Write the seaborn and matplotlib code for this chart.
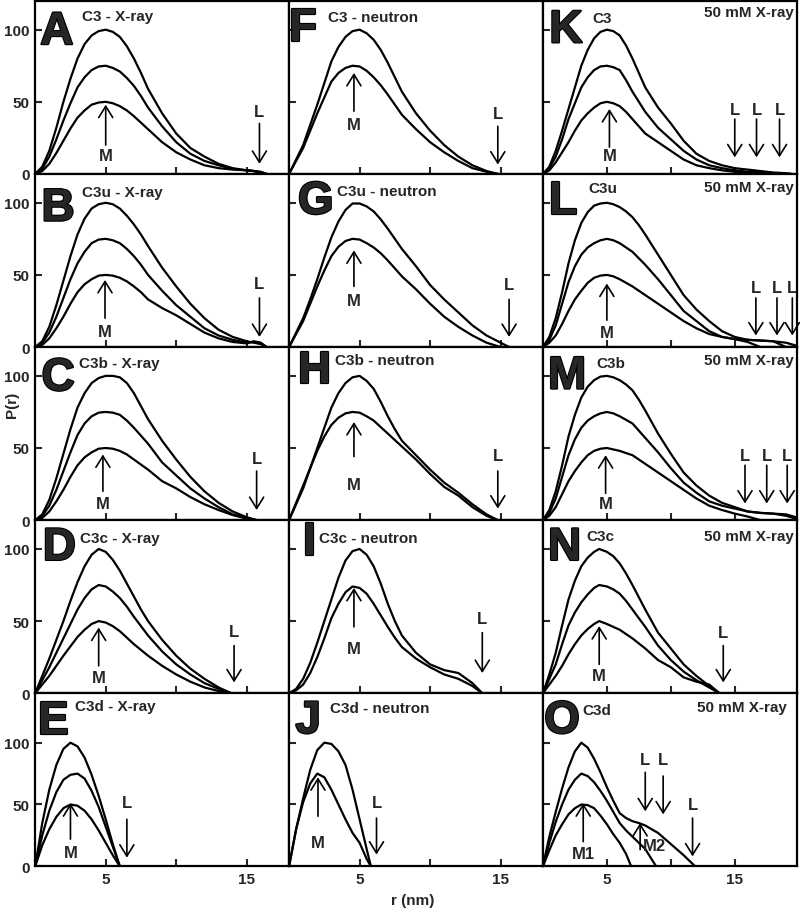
import matplotlib
matplotlib.use("Agg")
import matplotlib.pyplot as plt
import matplotlib.patheffects as pe
import seaborn as sns

sns.set_style("ticks")
plt.rcParams['font.family'] = ['Liberation Sans', 'DejaVu Sans']
plt.rcParams['font.weight'] = 'bold'

# ---- P(r) curves (r in nm) ----
r_A = [0, 0.5, 1, 1.5, 2, 2.5, 3, 3.5, 4, 4.5, 5, 5.5, 6, 6.5, 7, 7.5, 8, 9, 10, 11, 12, 13, 14, 15, 15.5, 16, 16.4]
A_top = [0, 5, 16, 32, 50, 66, 80, 90, 96, 99, 100, 98.5, 95, 88.5, 80, 70, 59, 42, 28, 18, 12, 7, 4, 2.5, 2, 1, 0]
A_mid = [0, 3.5, 12, 24, 37, 49, 60, 67, 72, 74.5, 75, 73.5, 71, 66.5, 61, 54, 46, 33, 22, 14, 9, 6, 3.5, 2.5, 2, 1, 0]
A_bot = [0, 2, 7, 14.5, 23, 31.5, 39, 44, 48, 49.5, 50, 49, 47, 44, 40, 35.5, 31, 22, 15, 10, 6, 4, 3, 2.5, 2, 1.5, 0]

r_B = [0, 0.5, 1, 1.5, 2, 2.5, 3, 3.5, 4, 4.5, 5, 5.5, 6, 6.5, 7, 7.5, 8, 9, 10, 11, 12, 13, 14, 15, 15.5, 16, 16.4]
B_top = [0, 4, 14, 29, 46, 63, 78, 89, 96, 99, 100, 99, 96, 91, 85, 78, 70, 55, 42, 30, 20, 12, 7, 4, 3, 2, 0]
B_mid = [0, 3, 10, 21, 34, 47, 58, 66, 72, 74.5, 75, 74, 72, 68, 63, 57, 50, 39, 29, 21, 13, 8, 5, 3, 3.5, 2.5, 0]
B_bot = [0, 1.5, 6, 13, 21, 30, 38, 43.5, 47, 49.5, 50, 49.5, 48, 45.5, 42, 38, 33, 27, 22, 16, 10, 6, 3.5, 2.5, 4, 3, 0]

r_C = [0, 0.5, 1, 1.5, 2, 2.5, 3, 3.5, 4, 4.5, 5, 5.5, 6, 6.5, 7, 7.5, 8, 9, 10, 11, 12, 13, 14, 15, 15.7]
C_top = [0, 4, 14, 29, 46, 63, 78, 88, 95, 98.5, 100, 100, 99, 95, 88, 79, 70, 55, 42, 30, 20, 12, 6, 2, 0]
C_mid = [0, 3, 10, 21, 34, 47, 59, 67, 72, 74.5, 75, 74.5, 73, 69, 64, 58.5, 53, 40, 31, 22, 15, 9, 4, 1.5, 0]
C_bot = [0, 1.5, 6, 13, 21, 30, 38, 43.5, 47, 49.5, 50, 49.5, 48, 45.5, 42, 38.5, 35, 27, 22, 16, 11, 7, 3.5, 1, 0]

r_D = [0, 0.5, 1, 1.5, 2, 2.5, 3, 3.5, 4, 4.5, 5, 5.5, 6, 6.5, 7, 7.5, 8, 9, 10, 11, 12, 13, 13.9]
D_top = [0, 12, 24, 37, 50, 64, 77, 88, 96, 100, 98, 92.5, 85, 76, 67, 58, 50, 37, 26, 17, 10, 4, 0]
D_mid = [0, 9, 18, 28, 38, 48, 58, 66, 72, 75, 74, 70.5, 66, 60, 53, 46.5, 40, 29, 20, 13, 7, 3, 0]
D_bot = [0, 6, 12, 19, 26, 32.5, 39, 44, 48, 50, 49, 46.5, 43, 38.5, 34, 30, 26, 19, 13, 8, 4, 1.5, 0]

r_E = [0, 0.5, 1, 1.5, 2, 2.5, 3, 3.5, 4, 4.5, 5, 5.5, 6]
E_top = [0, 35, 62, 82, 95, 100, 97, 88, 74, 57, 38, 18, 0]
E_mid = [0, 25, 45, 60, 70, 74, 75, 71, 61, 48, 32, 16, 0]
E_bot = [0, 17, 30, 40, 47, 50, 49, 45, 38, 29, 19, 9, 0]

r_F = [0, 0.5, 1, 1.5, 2, 2.5, 3, 3.5, 4, 4.5, 5, 5.5, 6, 6.5, 7, 7.5, 8, 9, 10, 11, 12, 13, 14, 14.8]
F_top = [0, 10, 20, 34, 48, 63, 78, 88, 95, 99, 100, 97.5, 93, 86, 77, 67, 57, 42, 30, 20, 12, 6, 2, 0]
F_mid = [0, 9, 18, 30, 42, 53, 64, 70, 73.5, 75, 74.5, 71.5, 67, 61.5, 55, 48, 41, 31, 22, 15, 9, 4, 1.5, 0]

r_G = [0, 0.5, 1, 1.5, 2, 2.5, 3, 3.5, 4, 4.5, 5, 5.5, 6, 6.5, 7, 7.5, 8, 9, 10, 11, 12, 13, 14, 15, 15.6]
G_top = [0, 10, 20, 33, 47, 62, 76, 87, 95, 99.5, 99.5, 97.5, 94, 88.5, 82, 75, 68, 56, 43, 33, 24, 15, 8, 3, 0]
G_mid = [0, 9, 18, 30, 42, 53, 63, 69.5, 73.5, 75, 74.5, 72, 69, 65, 60, 54.5, 49, 40, 30, 21, 14, 8, 3, 0, 0]

r_H = [0, 0.5, 1, 1.5, 2, 2.5, 3, 3.5, 4, 4.5, 5, 5.5, 6, 6.5, 7, 7.5, 8, 9, 10, 11, 12, 13, 14, 14.8]
H_top = [0, 11, 22, 36, 50, 64, 78, 88, 95, 99, 100, 96.5, 91, 82, 72, 63, 55, 45, 35, 26, 19, 11, 4, 0]
H_mid = [0, 12, 24, 36, 48, 58, 66, 71, 74, 75, 74.5, 72, 69, 64.5, 60, 55.5, 51, 42, 32, 23, 17, 9, 3, 0]

r_I = [0, 0.5, 1, 1.5, 2, 2.5, 3, 3.5, 4, 4.5, 5, 5.5, 6, 6.5, 7, 7.5, 8, 9, 10, 11, 12, 13, 13.7]
I_top = [0, 3, 10, 21, 35, 50, 65, 80, 92, 98.5, 100, 96, 88, 76, 62, 50, 40, 28, 20, 16, 14, 7, 0]
I_mid = [0, 2, 6, 14, 25, 38, 52, 62, 70, 74, 73, 69, 62, 54, 46, 38.5, 32, 24, 18, 13, 10, 5, 0]

r_J = [0, 0.5, 1, 1.5, 2, 2.5, 3, 3.5, 4, 4.5, 5, 5.5, 5.8]
J_top = [0, 30, 55, 78, 94, 100, 99, 93, 82, 62, 38, 14, 0]
J_mid = [0, 30, 52, 67, 75, 72, 62, 50, 38, 27, 19, 6, 0]

r_K = [0, 0.5, 1, 1.5, 2, 2.5, 3, 3.5, 4, 4.5, 5, 5.5, 6, 6.5, 7, 7.5, 8, 9, 10, 11, 12, 13, 14, 15, 16, 17, 18, 19, 19.4]
K_top = [0, 5, 16, 30, 45, 60, 75, 86, 94, 98.5, 100, 99, 96, 89, 80, 70, 60, 46, 35, 23, 14, 9, 6, 4, 3, 2, 1, 0.5, 0]
K_mid = [0, 4, 12, 24, 38, 49, 60, 67, 72, 74.5, 75, 74, 72, 65, 57, 50, 43, 32, 24, 16, 10, 6, 4, 2.5, 1.5, 1, 0.5, 0, 0]
K_bot = [0, 2.5, 8, 15, 22, 30, 37, 42, 46, 49, 50, 49, 47, 43, 38, 33, 28, 22, 16, 10, 6, 4, 2.5, 1.5, 0.5, 0, 0, 0, 0]

r_L = [0, 0.5, 1, 1.5, 2, 2.5, 3, 3.5, 4, 4.5, 5, 5.5, 6, 6.5, 7, 7.5, 8, 9, 10, 11, 12, 13, 14, 15, 16, 17, 18, 19, 19.8]
L_top = [0, 7, 20, 38, 58, 74, 86, 93.5, 98, 99.5, 100, 99, 97, 94, 90, 84.5, 78, 64, 50, 36, 26, 18, 11, 7, 5, 4.5, 4, 3, 1]
L_mid = [0, 5, 15, 30, 45, 56, 64, 69, 72, 74, 75, 74, 72, 69, 66, 61.5, 57, 47, 36, 25, 18, 11, 7, 5.5, 5, 4.5, 4, 0, 0]
L_bot = [0, 3, 8, 16, 25, 33, 39, 44.5, 48, 49.5, 50, 49, 47, 44.5, 42, 39, 36, 30, 24, 18, 13, 9, 7, 5.5, 3.5, 0, 0, 0, 0]

r_M = [0, 0.5, 1, 1.5, 2, 2.5, 3, 3.5, 4, 4.5, 5, 5.5, 6, 6.5, 7, 7.5, 8, 9, 10, 11, 12, 13, 14, 15, 16, 17, 18, 19, 19.8]
M_top = [0, 7, 20, 38, 58, 73, 85, 92.5, 97, 99.5, 100, 99, 97, 94, 90, 83.5, 76, 60, 46, 33, 24, 17, 12, 9, 6, 5, 4.5, 4, 2]
M_mid = [0, 5, 15, 30, 45, 56, 64, 69, 72, 74, 75, 74, 72, 69.5, 67, 62, 57, 47, 36, 26, 19, 13, 10, 8, 6, 5, 4.5, 3, 1]
M_bot = [0, 3, 9, 18, 27, 34, 40, 45, 48, 49.5, 50, 49, 48, 46.5, 45, 42, 39, 33, 27, 21, 15, 10, 7, 4.5, 2.5, 0, 0, 0, 0]

r_N = [0, 0.5, 1, 1.5, 2, 2.5, 3, 3.5, 4, 4.4, 5, 5.5, 6, 6.5, 7, 7.5, 8, 9, 10, 11, 12, 13, 13.8]
N_top = [0, 13, 28, 47, 65, 78, 88, 94, 98, 100, 98, 95, 90, 83, 75, 66.5, 58, 42, 31, 20, 12, 5, 0]
N_mid = [0, 10, 20, 34, 47, 56, 63, 68.5, 73, 75, 74, 72, 69, 64, 58, 52, 46, 33, 23, 15, 9, 4, 0]
N_bot = [0, 6, 12, 19, 27, 34, 40, 44.5, 48, 50, 48, 46, 44, 41, 38, 34.5, 31, 23, 18, 11, 8, 6, 0]

r_O_top = [0, 0.5, 1, 1.5, 2, 2.5, 3, 3.5, 4, 4.5, 5, 5.5, 6, 6.5, 7, 7.5, 8, 9, 10, 11, 11.9]
O_top = [0, 24, 44, 63, 80, 93, 100, 96, 87, 76, 64, 53, 43, 39, 36.5, 35, 33, 27, 18, 9, 0]
r_O_mid = [0, 0.5, 1, 1.5, 2, 2.5, 3, 3.5, 4, 4.5, 5, 5.5, 6, 6.5, 7, 7.5, 8, 8.85]
O_mid = [0, 19, 36, 50, 62, 70, 75, 73, 68, 61, 53, 44, 35, 29, 24, 19, 14, 0]
r_O_bot = [0, 0.5, 1, 1.5, 2, 2.5, 3, 3.5, 4, 4.5, 5, 5.5, 6, 6.5, 6.9]
O_bot = [0, 13, 25, 34, 42, 47, 50, 49.5, 47, 41, 34, 26, 19, 10, 0]

letters = ['A', 'B', 'C', 'D', 'E', 'F', 'G', 'H', 'I', 'J', 'K', 'L', 'M', 'N', 'O']
titles = ['C3 - X-ray', 'C3u - X-ray', 'C3b - X-ray', 'C3c - X-ray', 'C3d - X-ray',
          'C3 - neutron', 'C3u - neutron', 'C3b - neutron', 'C3c - neutron', 'C3d - neutron',
          'C3', 'C3u', 'C3b', 'C3c', 'C3d']
right_note = '50 mM X-ray'

curves = {
    'A': [(r_A, A_top), (r_A, A_mid), (r_A, A_bot)],
    'B': [(r_B, B_top), (r_B, B_mid), (r_B, B_bot)],
    'C': [(r_C, C_top), (r_C, C_mid), (r_C, C_bot)],
    'D': [(r_D, D_top), (r_D, D_mid), (r_D, D_bot)],
    'E': [(r_E, E_top), (r_E, E_mid), (r_E, E_bot)],
    'F': [(r_F, F_top), (r_F, F_mid)],
    'G': [(r_G, G_top), (r_G, G_mid)],
    'H': [(r_H, H_top), (r_H, H_mid)],
    'I': [(r_I, I_top), (r_I, I_mid)],
    'J': [(r_J, J_top), (r_J, J_mid)],
    'K': [(r_K, K_top), (r_K, K_mid), (r_K, K_bot)],
    'L': [(r_L, L_top), (r_L, L_mid), (r_L, L_bot)],
    'M': [(r_M, M_top), (r_M, M_mid), (r_M, M_bot)],
    'N': [(r_N, N_top), (r_N, N_mid), (r_N, N_bot)],
    'O': [(r_O_top, O_top), (r_O_mid, O_mid), (r_O_bot, O_bot)],
}

# M arrows: (x, tail, head, label, label x, label y); L arrows: (x, text y, tail, head)
m_marks = {
    'A': [(5.0, 20, 48, 'M', 5.0, 12.5)], 'B': [(4.95, 20, 46.5, 'M', 4.95, 11)],
    'C': [(4.8, 20, 45.5, 'M', 4.8, 11.5)], 'D': [(4.5, 19, 45.5, 'M', 4.5, 11)],
    'E': [(2.5, 22, 51, 'M', 2.5, 11)], 'F': [(4.6, 43.5, 70, 'M', 4.6, 34)],
    'G': [(4.6, 42, 67, 'M', 4.6, 32)], 'H': [(4.6, 44, 68, 'M', 4.6, 25)],
    'I': [(4.6, 46, 73, 'M', 4.6, 31)], 'J': [(2.05, 40.5, 72, 'M', 2.05, 19)],
    'K': [(5.2, 18.6, 45, 'M', 5.2, 12.5)], 'L': [(5.0, 18.6, 44, 'M', 5.0, 10)],
    'M': [(4.9, 18.6, 45, 'M', 4.9, 11.5)], 'N': [(4.4, 20, 46.5, 'M', 4.4, 12)],
    'O': [(3.15, 20, 51, 'M1', 3.15, 10), (7.6, 13.5, 35, 'M2', 8.7, 16.5)],
}
l_marks = {
    'A': [(15.9, 43.5, 35, 7)], 'B': [(15.9, 44, 34, 7)], 'C': [(15.7, 43, 34, 7)],
    'D': [(14.1, 43, 33, 7.5)], 'E': [(6.5, 51.5, 38, 7)], 'F': [(14.8, 42, 33, 6.5)],
    'G': [(15.6, 43, 33, 7)], 'H': [(14.8, 45, 34, 8)], 'I': [(13.7, 52, 42, 14)],
    'J': [(6.2, 51.5, 39, 9.5)],
    'K': [(15.0, 45, 38, 11.5), (16.7, 45, 38, 11.5), (18.5, 45, 38, 11.5)],
    'L': [(16.65, 41, 34, 8), (18.3, 41, 34, 8), (19.5, 41, 34, 8)],
    'M': [(15.8, 45, 38, 11.5), (17.5, 45, 38, 11.5), (19.1, 45, 38, 11.5)],
    'N': [(14.1, 42, 33, 7.5)],
    'O': [(8.0, 86.5, 76, 44.5), (9.4, 86.5, 73, 42), (11.7, 50, 39, 8)],
}

# per-panel text placement (axes fraction): letter x, letter baseline, title x, title baseline
letter_pos = {'A': (0.02, 0.75), 'B': (0.025, 0.73), 'C': (0.025, 0.75), 'D': (0.03, 0.77),
              'E': (0.012, 0.765), 'F': (0.0, 0.77), 'G': (0.035, 0.77), 'H': (0.035, 0.79),
              'I': (0.055, 0.80), 'J': (0.025, 0.77), 'K': (0.025, 0.76), 'L': (0.025, 0.77),
              'M': (0.02, 0.76), 'N': (0.02, 0.77), 'O': (0.005, 0.77)}
title_pos = {'A': (0.184, 0.89), 'B': (0.183, 0.87), 'C': (0.173, 0.886), 'D': (0.176, 0.875),
             'E': (0.156, 0.905), 'F': (0.154, 0.885), 'G': (0.19, 0.88), 'H': (0.18, 0.9),
             'I': (0.118, 0.875), 'J': (0.16, 0.892), 'K': (0.195, 0.88), 'L': (0.18, 0.898),
             'M': (0.21, 0.886), 'N': (0.17, 0.885), 'O': (0.155, 0.88)}
note_pos = {'K': (0.99, 0.915), 'L': (0.99, 0.9), 'M': (0.99, 0.9), 'N': (0.99, 0.885),
            'O': (0.96, 0.9)}

fig, axes = plt.subplots(5, 3, figsize=(8, 9.12), dpi=100)
fig.subplots_adjust(left=0.044, right=0.996, top=0.998, bottom=0.049, wspace=0, hspace=0)

arrow_kw = dict(arrowstyle='->,head_length=0.45,head_width=0.28', color='black',
                lw=1.2, shrinkA=0, shrinkB=0, mutation_scale=18)
heavy = [pe.withStroke(linewidth=1.6, foreground='black')]

for i, key in enumerate(letters):
    col, row = divmod(i, 5)
    ax = axes[row, col]
    for rr, pp in curves[key]:
        sns.lineplot(x=rr, y=pp, ax=ax, color='black', linewidth=1.6,
                     estimator=None, sort=False)
    ax.set_xlim(0, 19.85 if col == 2 else 18.0)
    ax.set_ylim(0, 140 if row == 4 else 120)
    ax.set_xticks([5, 10, 15])
    ax.set_yticks([0, 50, 100])
    ax.tick_params(direction='in', length=5, width=1.5, labelsize=11, pad=4)
    if row == 4:
        ax.set_xticklabels(['5', '', '15'])
    else:
        ax.set_xticklabels([])
    if col == 0:
        ax.set_yticklabels(['0', '50', '100'])
    else:
        ax.set_yticklabels([])
    for sp in ax.spines.values():
        sp.set_linewidth(1.6)
        sp.set_color('black')
    ax.set_xlabel('')
    ax.set_ylabel('')

    lx, ly = letter_pos[key]
    ax.text(lx, ly, key, transform=ax.transAxes, fontsize=33, fontweight='bold',
            ha='left', va='baseline', path_effects=heavy)
    tx, ty = title_pos[key]
    ax.text(tx, ty, titles[i], transform=ax.transAxes, fontsize=11, fontweight='bold',
            ha='left', va='baseline')
    if key in note_pos:
        nx, ny = note_pos[key]
        ax.text(nx, ny, right_note, transform=ax.transAxes, fontsize=11,
                fontweight='bold', ha='right', va='baseline')

    for x, tail, head, lab, tx_, ty_ in m_marks[key]:
        ax.annotate('', xy=(x, head), xytext=(x, tail), arrowprops=arrow_kw)
        ax.text(tx_, ty_, lab, fontsize=12, fontweight='bold', ha='center', va='center')
    for x, ty_, tail, head in l_marks[key]:
        ax.annotate('', xy=(x, head), xytext=(x, tail), arrowprops=arrow_kw)
        ax.text(x, ty_, 'L', fontsize=12, fontweight='bold', ha='center', va='center')

fig.text(0.015, 0.556, 'P(r)', rotation=90, fontsize=11, fontweight='bold',
         ha='center', va='center')
fig.text(0.516, 0.012, 'r (nm)', fontsize=11, fontweight='bold', ha='center', va='center')

fig.savefig('out.png', dpi=100)
